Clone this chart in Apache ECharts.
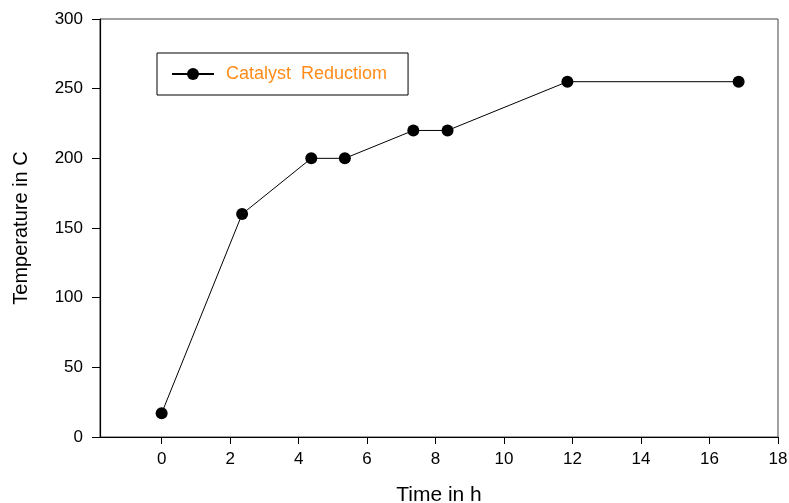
<!DOCTYPE html>
<html>
<head>
<meta charset="utf-8">
<script src="https://cdn.jsdelivr.net/npm/echarts@6/dist/echarts.min.js"></script>
<style>html,body{margin:0;padding:0;background:#fff}#c{width:789px;height:503px}</style>
</head>
<body>
<div id="c"></div>
<script>
var timeH = [0, 2.35, 4.37, 5.35, 7.35, 8.35, 11.85, 16.85];
var tempC = [17, 160, 200, 200, 220, 220, 255, 255];
var xTicks = [0, 2, 4, 6, 8, 10, 12, 14, 16, 18];
var yTicks = [0, 50, 100, 150, 200, 250, 300];
var seriesName = 'Catalyst  Reductiom';

var chart = echarts.init(document.getElementById('c'));
var font = 'Liberation Sans, Arial, sans-serif';
chart.setOption({
  animation: false,
  backgroundColor: '#fff',
  grid: { left: 100, right: 11, top: 19, bottom: 66, show: true, borderColor: '#444', borderWidth: 1,
          containLabel: false, outerBoundsMode: 'none' },
  legend: {
    left: 157, top: 53,
    padding: [12, 21, 12, 14],
    borderColor: '#000', borderWidth: 1,
    itemWidth: 42, itemHeight: 15,
    textStyle: { color: '#FF8C1A', fontSize: 18, fontFamily: font, padding: [0, 0, 0, 7] },
    data: [seriesName]
  },
  xAxis: {
    type: 'value', min: -1.8, max: 18,
    name: 'Time in h', nameLocation: 'middle', nameGap: 48,
    nameTextStyle: { fontSize: 21, color: '#000', fontFamily: font },
    splitLine: { show: false },
    axisLine: { show: true, onZero: false, lineStyle: { color: '#000', width: 1.2 } },
    axisTick: { show: true, customValues: xTicks, length: 7, lineStyle: { color: '#000' } },
    axisLabel: { customValues: xTicks, fontSize: 17, color: '#000', fontFamily: font, margin: 14 }
  },
  yAxis: {
    type: 'value', min: 0, max: 300, interval: 50,
    name: 'Temperature in C', nameLocation: 'middle', nameGap: 69, nameRotate: 90,
    nameTextStyle: { fontSize: 20, color: '#000', fontFamily: font },
    splitLine: { show: false },
    axisLine: { show: true, onZero: false, lineStyle: { color: '#000', width: 1.2 } },
    axisTick: { show: true, length: 8, lineStyle: { color: '#000' } },
    axisLabel: { customValues: yTicks, fontSize: 17, color: '#000', fontFamily: font, margin: 17 }
  },
  series: [{
    name: seriesName,
    type: 'line',
    data: timeH.map(function (t, i) { return [t, tempC[i]]; }),
    symbol: 'circle', symbolSize: 12,
    lineStyle: { color: '#000', width: 1 },
    itemStyle: { color: '#000' }
  }]
});
</script>
</body>
</html>
